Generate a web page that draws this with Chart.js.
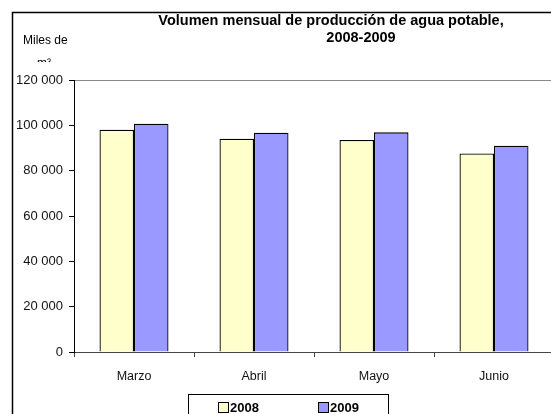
<!DOCTYPE html>
<html>
<head>
<meta charset="utf-8">
<script src="https://cdn.jsdelivr.net/npm/chart.js@4/dist/chart.umd.min.js"></script>
<style>
  html, body { margin: 0; padding: 0; background: #fff; overflow: hidden; }
  #wrap { position: relative; width: 560px; height: 414px; }
</style>
</head>
<body>
<div id="wrap"><canvas id="aguaChart"></canvas></div>
<script>
const months = ["Marzo", "Abril", "Mayo", "Junio"];
const values2008 = [98100, 94100, 93500, 87600];
const values2009 = [100700, 96700, 96900, 91000];
const yTicks = [0, 20000, 40000, 60000, 80000, 100000, 120000];
const titleLines = ["Volumen mensual de producción de agua potable,", "2008-2009"];
const unitLabel = ["Miles de", "m³"];
const seriesNames = ["2008", "2009"];

const FONT = "'Liberation Sans', Arial, sans-serif";

function fmt(v) {
  return String(v).replace(/\B(?=(\d{3})+(?!\d))/g, " ");
}

const decorPlugin = {
  id: "decor",
  afterDraw(chart) {
    const ctx = chart.ctx;
    ctx.save();
    // outer frame
    ctx.strokeStyle = "#000";
    ctx.lineWidth = 1.5;
    ctx.beginPath();
    ctx.moveTo(12.5, 420);
    ctx.lineTo(12.5, 12.5);
    ctx.lineTo(570, 12.5);
    ctx.stroke();

    // title
    ctx.fillStyle = "#000";
    ctx.font = "bold 14.5px " + FONT;
    ctx.textAlign = "center";
    ctx.textBaseline = "middle";
    ctx.fillText(titleLines[0], 331, 21);
    ctx.fillText(titleLines[1], 361, 38);

    // unit label
    ctx.font = "12px " + FONT;
    ctx.textAlign = "left";
    ctx.fillText(unitLabel[0], 23, 41);
    ctx.save();
    ctx.beginPath();
    ctx.rect(0, 53, 120, 9);
    ctx.clip();
    ctx.fillText(unitLabel[1], 37, 64);
    ctx.restore();

    // legend
    ctx.strokeStyle = "#000";
    ctx.lineWidth = 1;
    ctx.strokeRect(188.5, 394.5, 200, 30);
    const colors = chart.data.datasets.map(d => d.backgroundColor);
    const xs = [218, 318];
    ctx.font = "bold 13px " + FONT;
    ctx.textBaseline = "middle";
    seriesNames.forEach((name, i) => {
      ctx.fillStyle = colors[i];
      ctx.fillRect(xs[i] + 0.5, 402.5, 10, 10);
      ctx.strokeRect(xs[i] + 0.5, 402.5, 10, 10);
      ctx.fillStyle = "#000";
      ctx.fillText(name, xs[i] + 12, 408);
    });
    ctx.restore();
  }
};

const config = {
  type: "bar",
  data: {
    labels: months,
    datasets: [
      {
        label: seriesNames[0],
        data: values2008,
        backgroundColor: "#FFFFCC",
        borderColor: "#000",
        borderWidth: 1.3,
      },
      {
        label: seriesNames[1],
        data: values2009,
        backgroundColor: "#9999FF",
        borderColor: "#000",
        borderWidth: 1.3,
      },
    ],
  },
  options: {
    animation: false,
    responsive: false,
    devicePixelRatio: 1,
    categoryPercentage: 0.575,
    barPercentage: 1,
    layout: { padding: { left: 0, top: 80, right: 6, bottom: 0 } },
    plugins: {
      legend: { display: false },
      title: { display: false },
      tooltip: { enabled: false },
    },
    scales: {
      x: {
        afterFit(scale) { scale.height = 62; },
        border: { color: "#444", width: 1 },
        grid: {
          offset: true,
          drawOnChartArea: false,
          tickLength: 5,
          tickColor: "#444",
        },
        ticks: {
          color: "#111",
          font: { family: FONT, size: 12.5 },
          padding: 12,
        },
      },
      y: {
        min: 0,
        max: 120000,
        afterFit(scale) { scale.width = 74; },
        afterBuildTicks(scale) {
          scale.ticks = yTicks.map(v => ({ value: v }));
        },
        border: { color: "#000", width: 1 },
        grid: {
          drawOnChartArea: true,
          color: c => (c.tick && c.tick.value === 120000 ? "#888" : "rgba(0,0,0,0)"),
          tickLength: 5,
          tickColor: "#000",
        },
        ticks: {
          color: "#111",
          font: { family: FONT, size: 13 },
          padding: 6,
          callback: v => fmt(v),
        },
      },
    },
  },
  plugins: [decorPlugin],
};

const canvas = document.getElementById("aguaChart");
canvas.width = 560;
canvas.height = 414;
const aguaChart = new Chart(canvas, config);
</script>
</body>
</html>
